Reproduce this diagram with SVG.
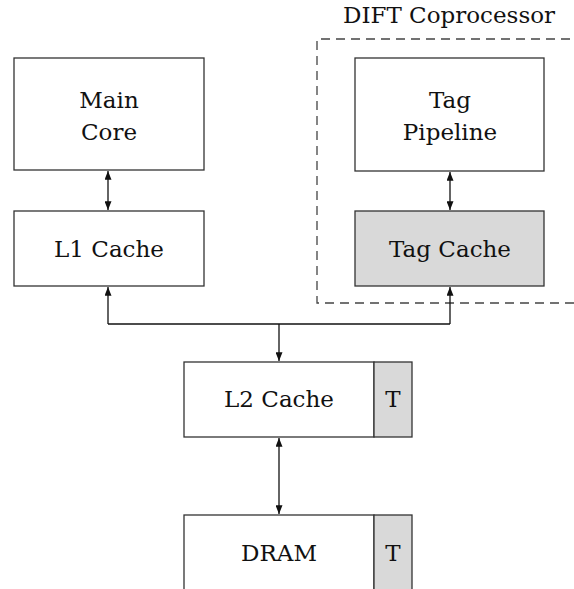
<svg xmlns="http://www.w3.org/2000/svg" width="574" height="589" viewBox="0 0 574 589">
<defs>
<marker id="ah" viewBox="0 0 10 8" refX="10" refY="4" markerWidth="9" markerHeight="7" markerUnits="userSpaceOnUse" orient="auto-start-reverse">
<path d="M0,0 L10,4 L0,8 Z" fill="#111"/>
</marker>
</defs>
<style>
.box{fill:#fff;stroke:#333;stroke-width:1.3}
.gray{fill:#d9d9d9;stroke:#333;stroke-width:1.3}
.lbl{font-family:'DejaVu Serif','Liberation Serif',serif;font-size:23px;fill:#111;text-anchor:middle}
.con{fill:none;stroke:#111;stroke-width:1.3}
</style>
<rect width="574" height="589" fill="#fff"/>
<g id="dift">
<path d="M574,303 H317 V39 H574" fill="none" stroke="#444" stroke-width="1.3" stroke-dasharray="9,6"/>
<text class="lbl" x="449" y="23">DIFT Coprocessor</text>
</g>
<g id="main-core">
<rect class="box" x="14" y="58" width="190" height="112"/>
<text class="lbl" x="109" y="108">Main</text>
<text class="lbl" x="109" y="140">Core</text>
</g>
<g id="l1-cache">
<rect class="box" x="14" y="211" width="190" height="75"/>
<text class="lbl" x="109" y="257">L1 Cache</text>
</g>
<g id="tag-pipeline">
<rect class="box" x="355" y="58" width="189" height="113"/>
<text class="lbl" x="450" y="108">Tag</text>
<text class="lbl" x="450" y="140">Pipeline</text>
</g>
<g id="tag-cache">
<rect class="gray" x="355" y="211" width="189" height="75"/>
<text class="lbl" x="450" y="257">Tag Cache</text>
</g>
<g id="l2-cache">
<rect class="box" x="184" y="362" width="190" height="75"/>
<rect class="gray" x="374" y="362" width="38" height="75"/>
<text class="lbl" x="279" y="407">L2 Cache</text>
<text class="lbl" x="393" y="407">T</text>
</g>
<g id="dram">
<rect class="box" x="184" y="515" width="190" height="80"/>
<rect class="gray" x="374" y="515" width="38" height="80"/>
<text class="lbl" x="279" y="561">DRAM</text>
<text class="lbl" x="393" y="561">T</text>
</g>
<g id="connectors">
<line class="con" x1="108" y1="171" x2="108" y2="210" marker-start="url(#ah)" marker-end="url(#ah)"/>
<line class="con" x1="450" y1="172" x2="450" y2="210" marker-start="url(#ah)" marker-end="url(#ah)"/>
<path class="con" d="M108,324 H450" />
<path class="con" d="M108,324 V287" marker-end="url(#ah)"/>
<path class="con" d="M450,324 V287" marker-end="url(#ah)"/>
<path class="con" d="M279,324 V361" marker-end="url(#ah)"/>
<line class="con" x1="279" y1="438" x2="279" y2="514" marker-start="url(#ah)" marker-end="url(#ah)"/>
</g>
</svg>
